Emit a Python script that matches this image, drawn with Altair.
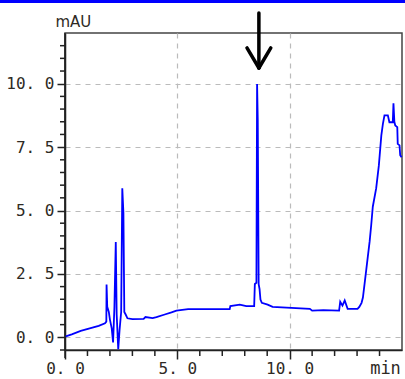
import altair as alt
import pandas as pd

# Chromatogram trace (min, mAU)
times = [0.0, 0.3, 0.7, 1.1, 1.5, 1.78, 1.84, 1.85, 1.88, 1.95, 2.00, 2.08, 2.14, 2.20, 2.26,
         2.30, 2.37, 2.43, 2.50, 2.55, 2.60, 2.64, 2.70, 2.78, 3.0, 3.5, 3.58, 3.9, 4.07, 4.44,
         4.74, 4.96, 5.48, 7.33, 7.36, 7.78, 8.07, 8.42, 8.45, 8.52, 8.55, 8.58, 8.62, 8.66,
         8.70, 8.76, 9.02, 9.24, 10.9, 11.0, 11.5, 12.2, 12.25, 12.35, 12.45, 12.58, 13.02,
         13.1, 13.2, 13.26, 13.33, 13.41, 13.48, 13.56, 13.63, 13.70, 13.85, 13.97, 14.08,
         14.15, 14.22, 14.37, 14.44, 14.59, 14.62, 14.66, 14.70, 14.79, 14.81, 14.89, 14.92, 14.98]
absorb = [0.03, 0.12, 0.25, 0.35, 0.45, 0.55, 0.62, 2.08, 1.2, 1.0, 0.7, 0.35, -0.2, 1.2, 3.76,
          0.9, -0.47, 0.3, 1.0, 5.88, 4.9, 1.0, 0.9, 0.75, 0.72, 0.73, 0.8, 0.76, 0.8, 0.9,
          0.98, 1.05, 1.11, 1.11, 1.23, 1.29, 1.23, 1.23, 2.1, 2.15, 9.99, 8.55, 2.1, 1.9,
          1.49, 1.36, 1.29, 1.2, 1.12, 1.05, 1.07, 1.05, 1.4, 1.25, 1.45, 1.12, 1.12,
          1.2, 1.36, 1.57, 2.08, 2.67, 3.19, 3.78, 4.43, 5.15, 5.87, 6.78, 7.96,
          8.42, 8.75, 8.75, 8.48, 8.48, 9.23, 8.5, 8.35, 8.29, 7.63, 7.57, 7.18, 7.1]

x_major = [0, 5, 10]
x_minor = [1, 2, 3, 4, 6, 7, 8, 9, 11, 12, 13, 14]
y_major = [0, 2.5, 5, 7.5, 10]
y_minor = [-0.5, 0.5, 1, 1.5, 2, 3, 3.5, 4, 4.5, 5.5, 6, 6.5, 7, 8, 8.5, 9, 9.5, 10.5, 11, 11.5]

# Arrow marking the target peak
arrow_x = [8.63, 8.10, 9.16]
arrow_x2 = [8.63, 8.63, 8.63]
arrow_y = [12.79, 11.41, 11.41]
arrow_y2 = [10.62, 10.62, 10.62]

W, H = 337, 317
FONT = "DejaVu Sans Mono"
TXT = "#2e2a24"

xs = alt.Scale(domain=[0, 15], nice=False, zero=False)
ys = alt.Scale(domain=[-0.5, 12], nice=False, zero=False)

df = pd.DataFrame({"t": times, "a": absorb})
lab = "replace(format(datum.value, '.1f'), '.', '. ')"

trace = alt.Chart(df).mark_line(color="#0000ff", strokeWidth=1.8).encode(
    x=alt.X("t:Q", scale=xs, axis=alt.Axis(
        values=x_major, labelExpr=lab, tickSize=9, labelPadding=1, labelFlush=False,
        title="min", titleX=320, titleY=10, titleBaseline="top", titleAlign="center",
        titleFont=FONT, titleFontSize=17, titleFontWeight="normal", titleColor=TXT,
        grid=True, gridDash=[5, 5], gridColor="#bbbbbb", gridWidth=1.2)),
    y=alt.Y("a:Q", scale=ys, axis=alt.Axis(
        values=y_major, labelExpr=lab, tickSize=8, labelPadding=3, labelFlush=False,
        title="mAU", titleAngle=0, titleX=-10, titleY=-12, titleAlign="left",
        titleBaseline="middle", titleFont="DejaVu Sans", titleFontSize=15,
        titleFontWeight="normal", titleColor=TXT,
        grid=True, gridDash=[5, 5], gridColor="#bbbbbb", gridWidth=1.2)),
)

xminor = alt.Chart(pd.DataFrame({"v": x_minor})).mark_rule(color="#222", strokeWidth=1.5).encode(
    x=alt.X("v:Q", scale=xs), y=alt.value(H), y2=alt.value(H + 6))
yminor = alt.Chart(pd.DataFrame({"v": y_minor})).mark_rule(color="#222", strokeWidth=1.5).encode(
    y=alt.Y("v:Q", scale=ys), x=alt.value(-5), x2=alt.value(0))
leftext = alt.Chart(pd.DataFrame({"v": [0]})).mark_rule(color="#222", strokeWidth=1.5).encode(
    x=alt.value(0), y=alt.value(0), y2=alt.value(H + 8))

topbar = alt.Chart(pd.DataFrame({"v": [0]})).mark_rect(color="#0000ff").encode(
    x=alt.value(-65), x2=alt.value(W + 3), y=alt.value(-33), y2=alt.value(-30))

arrow = alt.Chart(pd.DataFrame({"x": arrow_x, "x2": arrow_x2, "y": arrow_y, "y2": arrow_y2})).mark_rule(
    color="#000000", strokeWidth=3.5, strokeCap="round").encode(
    x=alt.X("x:Q", scale=xs), x2="x2:Q", y=alt.Y("y:Q", scale=ys), y2="y2:Q")

chart = alt.layer(trace, xminor, yminor, leftext, topbar, arrow).properties(
    width=W, height=H, autosize=alt.AutoSizeParams(type="none"),
    padding={"left": 65, "top": 33, "right": 3, "bottom": 29},
    background="white",
).configure_view(stroke="#444444", strokeWidth=1.5).configure_axis(
    labelFont=FONT, labelFontSize=16, labelColor=TXT, domainColor="#222", domainWidth=1.5,
    tickColor="#222", tickWidth=1.5)

chart.save("out.html", embed_options={"renderer": "svg", "actions": False})
